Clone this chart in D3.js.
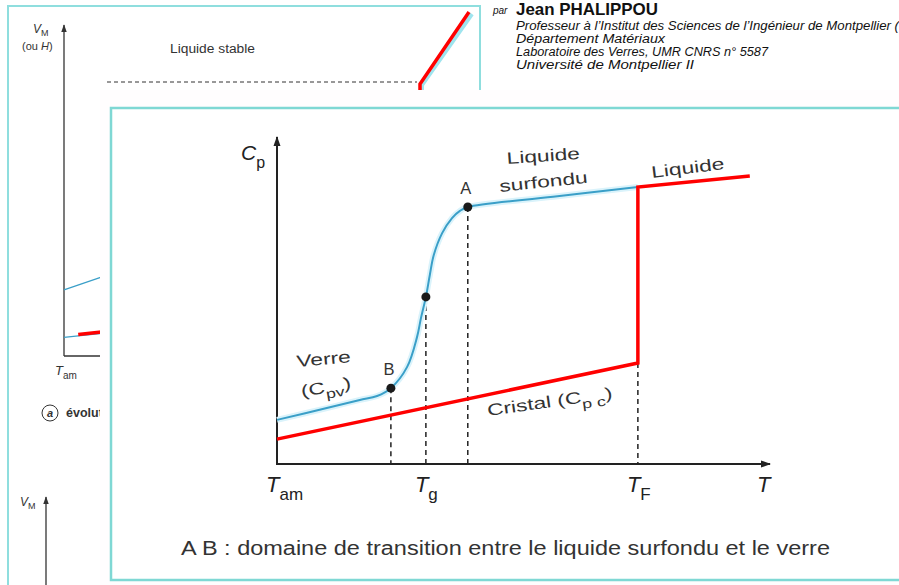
<!DOCTYPE html>
<html>
<head>
<meta charset="utf-8">
<style>
  body { margin: 0; background: #fff; }
  svg { display: block; font-family: "Liberation Sans", Arial, sans-serif; }
  .lbl { fill: #333; font-size: 16.5px; }
  .bg-txt { fill: #333; }
</style>
<title>Cp - transition vitreuse</title>
</head>
<body>
<script src="https://cdn.jsdelivr.net/npm/d3@7"></script>
<script>
// ---- data (arbitrary units, T and Cp from 0 to 100) ----
var verreT  = [0, 10.1, 16.8, 20.3, 23.1, 26.4, 28.4, 29.2, 30.2, 31.0, 31.8, 33.5, 35.5, 37.1, 38.7, 56.0, 73.2];
var verreCp = [13.5, 17.1, 19.6, 20.8, 23.2, 29.7, 38.8, 44.6, 51.1, 57.8, 63.9, 70.6, 75.2, 77.4, 78.6, 81.7, 84.7];
var cristalT  = [0, 73.2, 73.2, 95.9];
var cristalCp = [7.6, 30.9, 84.7, 88.1];
var pointNames = ["B", "", "A"];
var pointT  = [23.1, 30.2, 38.7];
var pointCp = [23.2, 51.1, 78.6];
var tickSubs = ["am", "g", "F"];
var tickT    = [0, 30.2, 73.2];
var caption = "A B : domaine de transition entre le liquide surfondu et le verre";

// background figure (partly hidden)
var bgBlueT = [0, 30], bgBlueV = [20, 31];
var bgRedT = [4, 30], bgRedV = [6.5, 9.5];

var W = 899, H = 585;
var svg = d3.select("body").append("svg").attr("width", W).attr("height", H);

var defs = svg.append("defs");
defs.append("marker").attr("id", "arr")
  .attr("viewBox", "0 0 10 10").attr("refX", 9).attr("refY", 5)
  .attr("markerWidth", 5).attr("markerHeight", 5).attr("orient", "auto")
  .append("path").attr("d", "M0,1.5 L10,5 L0,8.5 Z").attr("fill", "#222");
defs.append("marker").attr("id", "arr2")
  .attr("viewBox", "0 0 10 10").attr("refX", 9).attr("refY", 5)
  .attr("markerWidth", 6).attr("markerHeight", 6).attr("orient", "auto")
  .append("path").attr("d", "M0,1.5 L10,5 L0,8.5 Z").attr("fill", "#333");

// ---------------- background page ----------------
var bg = svg.append("g");
bg.append("path").attr("d", "M8,590 L8,6 L480,6 L480,95")
  .attr("fill", "none").attr("stroke", "#8fdede").attr("stroke-width", 2);

var bx = d3.scaleLinear().domain([0, 100]).range([64, 420]);
var by = d3.scaleLinear().domain([0, 100]).range([356, 25]);
bg.append("line").attr("x1", bx(0)).attr("x2", bx(0)).attr("y1", by(0)).attr("y2", by(100))
  .attr("stroke", "#333").attr("stroke-width", 1.3).attr("marker-end", "url(#arr2)");
bg.append("line").attr("x1", bx(0)).attr("x2", bx(30)).attr("y1", by(0)).attr("y2", by(0))
  .attr("stroke", "#333").attr("stroke-width", 1.3);
bg.append("text").attr("class", "bg-txt").attr("x", 33).attr("y", 33).attr("font-size", 12)
  .attr("font-style", "italic").text("V").append("tspan").attr("font-style", "normal")
  .attr("font-size", 9).attr("dy", 3).text("M");
bg.append("text").attr("class", "bg-txt").attr("x", 22).attr("y", 50).attr("font-size", 11)
  .html("(ou <tspan font-style='italic'>H</tspan>)");
bg.append("text").attr("class", "bg-txt").attr("x", 170).attr("y", 53).attr("font-size", 12)
  .attr("textLength", 85).attr("lengthAdjust", "spacingAndGlyphs").text("Liquide stable");
bg.append("line").attr("x1", 107).attr("x2", 417).attr("y1", 82).attr("y2", 82)
  .attr("stroke", "#333").attr("stroke-dasharray", "4,3");
bg.append("path").attr("d", "M420,95 L420,84 L470,13").attr("fill", "none")
  .attr("stroke", "#9ee4ee").attr("stroke-width", 4).attr("transform", "translate(2,1)");
bg.append("path").attr("d", "M420,95 L420,84 L469,12").attr("fill", "none")
  .attr("stroke", "#ff0000").attr("stroke-width", 3.5);
var bline = d3.line().x(function(d){ return bx(d[0]); }).y(function(d){ return by(d[1]); });
bg.append("path").attr("d", bline(d3.zip(bgBlueT, bgBlueV)))
  .attr("fill", "none").attr("stroke", "#3a9fc8").attr("stroke-width", 1.3);
bg.append("path").attr("d", bline([[0, 5.6], [30, 9]]))
  .attr("fill", "none").attr("stroke", "#3a9fc8").attr("stroke-width", 1.3);
bg.append("path").attr("d", bline(d3.zip(bgRedT, bgRedV)))
  .attr("fill", "none").attr("stroke", "#ff0000").attr("stroke-width", 3.5);
bg.append("text").attr("class", "bg-txt").attr("x", 55).attr("y", 375).attr("font-size", 13)
  .attr("font-style", "italic").text("T").append("tspan").attr("font-style", "normal")
  .attr("font-size", 10).attr("dy", 4).text("am");
bg.append("circle").attr("cx", 50).attr("cy", 413).attr("r", 8)
  .attr("fill", "none").attr("stroke", "#333").attr("stroke-width", 1);
bg.append("text").attr("class", "bg-txt").attr("x", 50).attr("y", 417).attr("font-size", 11)
  .attr("text-anchor", "middle").attr("font-style", "italic").attr("font-weight", "bold").text("a");
bg.append("text").attr("class", "bg-txt").attr("x", 66).attr("y", 417).attr("font-size", 12.5)
  .attr("font-weight", "bold").text("évolution");
bg.append("line").attr("x1", 46).attr("x2", 46).attr("y1", 590).attr("y2", 497)
  .attr("stroke", "#333").attr("stroke-width", 1.3).attr("marker-end", "url(#arr2)");
bg.append("text").attr("class", "bg-txt").attr("x", 20).attr("y", 506).attr("font-size", 12)
  .attr("font-style", "italic").text("V").append("tspan").attr("font-style", "normal")
  .attr("font-size", 9).attr("dy", 3).text("M");

// author block
var au = svg.append("g").attr("fill", "#111");
au.append("text").attr("x", 493).attr("y", 14).attr("font-size", 10).attr("font-style", "italic").text("par");
au.append("text").attr("x", 516).attr("y", 15).attr("font-size", 17).attr("font-weight", "bold")
  .attr("textLength", 142).attr("lengthAdjust", "spacingAndGlyphs").text("Jean PHALIPPOU");
var auLines = ["Professeur à l’Institut des Sciences de l’Ingénieur de Montpellier (",
  "Département Matériaux", "Laboratoire des Verres, UMR CNRS n° 5587", "Université de Montpellier II"];
var auLen = [383, 149, 252, 178];
au.selectAll("text.l").data(auLines).enter().append("text").attr("class", "l")
  .attr("x", 516).attr("y", function(d, i){ return 30 + i * 13; })
  .attr("font-size", 12).attr("font-style", "italic")
  .attr("textLength", function(d, i){ return auLen[i]; }).attr("lengthAdjust", "spacingAndGlyphs")
  .text(function(d){ return d; });

// ---------------- overlay panel ----------------
svg.append("rect").attr("x", 100).attr("y", 90).attr("width", 810).attr("height", 500)
  .attr("fill", "#fffdfe");
svg.append("rect").attr("x", 111).attr("y", 108).attr("width", 800).attr("height", 472)
  .attr("fill", "#fff").attr("stroke", "#7fd8d4").attr("stroke-width", 2.5);

var g = svg.append("g");
var x = d3.scaleLinear().domain([0, 100]).range([277, 770]);
var y = d3.scaleLinear().domain([0, 100]).range([464, 137]);

// dashed guides
g.selectAll("line.guide").data(pointT).enter().append("line").attr("class", "guide")
  .attr("x1", function(d){ return x(d); }).attr("x2", function(d){ return x(d); })
  .attr("y1", function(d, i){ return y(pointCp[i]); }).attr("y2", y(0))
  .attr("stroke", "#222").attr("stroke-width", 1.5).attr("stroke-dasharray", "5,4");
g.append("line").attr("x1", x(cristalT[1])).attr("x2", x(cristalT[1]))
  .attr("y1", y(cristalCp[1])).attr("y2", y(0))
  .attr("stroke", "#222").attr("stroke-width", 1.5).attr("stroke-dasharray", "5,4");

// axes
g.append("line").attr("x1", x(0)).attr("x2", x(0)).attr("y1", y(0) + 1).attr("y2", y(100))
  .attr("stroke", "#222").attr("stroke-width", 2).attr("marker-end", "url(#arr)");
g.append("line").attr("x1", x(0) - 1).attr("x2", x(100)).attr("y1", y(0)).attr("y2", y(0))
  .attr("stroke", "#222").attr("stroke-width", 2).attr("marker-end", "url(#arr)");

// verre / liquide surfondu curve
var line = d3.line().x(function(d){ return x(d[0]); }).y(function(d){ return y(d[1]); });
var vData = d3.zip(verreT, verreCp);
var smooth = line.curve(d3.curveCatmullRom.alpha(0.5));
g.append("path").attr("d", smooth(vData))
  .attr("fill", "none").attr("stroke", "#daf3fb").attr("stroke-width", 6);
g.append("path").attr("d", smooth(vData))
  .attr("fill", "none").attr("stroke", "#3a9fc8").attr("stroke-width", 2);

// cristal + liquide
g.append("path").attr("d", line.curve(d3.curveLinear)(d3.zip(cristalT, cristalCp)))
  .attr("fill", "none").attr("stroke", "#ff0000").attr("stroke-width", 3.5)
  .attr("stroke-linejoin", "miter");

// points
g.selectAll("circle.pt").data(pointT).enter().append("circle").attr("class", "pt")
  .attr("cx", function(d){ return x(d); }).attr("cy", function(d, i){ return y(pointCp[i]); })
  .attr("r", 4.5).attr("fill", "#1a1a1a");
g.selectAll("text.pt").data(pointT).enter().append("text").attr("class", "lbl")
  .attr("x", function(d){ return x(d) - 2; }).attr("y", function(d, i){ return y(pointCp[i]) - 13; })
  .attr("text-anchor", "middle").attr("font-size", 18)
  .text(function(d, i){ return pointNames[i]; });

// axis titles
var cp = g.append("text").attr("x", 241).attr("y", 160).attr("font-size", 21).attr("fill", "#222")
  .attr("font-style", "italic").text("C");
cp.append("tspan").attr("font-style", "normal").attr("font-size", 16).attr("dy", 8).text("p");
g.append("text").attr("x", 757).attr("y", 492).attr("font-size", 22).attr("fill", "#222")
  .attr("font-style", "italic").text("T");

// tick labels
var tl = g.selectAll("text.tick").data(tickT).enter().append("text").attr("class", "tick")
  .attr("x", function(d){ return x(d) - 11; }).attr("y", 492).attr("font-size", 22).attr("fill", "#222")
  .attr("font-style", "italic").text("T");
tl.append("tspan").attr("font-style", "normal").attr("font-size", 17).attr("dy", 8)
  .text(function(d, i){ return tickSubs[i]; });

// curve labels (the figure is a bit stretched horizontally)
function rotLabel(tx, ty, ang, str) {
  return g.append("text").attr("class", "lbl")
    .attr("transform", "translate(" + tx + "," + ty + ") rotate(" + ang + ") scale(1.38,1)").text(str);
}
rotLabel(507, 164, -4, "Liquide");
rotLabel(500, 192, -6, "surfondu");
rotLabel(652, 178, -7, "Liquide");
rotLabel(297, 367, -5, "Verre");
var cpv = rotLabel(302, 397, -10, "(C");
cpv.append("tspan").attr("font-size", 13).attr("dy", 6).text("pv");
cpv.append("tspan").attr("font-size", 16.5).attr("dy", -6).text(")");
var cpc = rotLabel(488, 416, -8, "Cristal (C");
cpc.append("tspan").attr("font-size", 13).attr("dy", 6).text("p c");
cpc.append("tspan").attr("font-size", 16.5).attr("dy", -6).text(")");

// caption
g.append("text").attr("x", 181).attr("y", 555).attr("font-size", 19.5).attr("fill", "#333")
  .attr("textLength", 649).attr("lengthAdjust", "spacingAndGlyphs").text(caption);
</script>
</body>
</html>
